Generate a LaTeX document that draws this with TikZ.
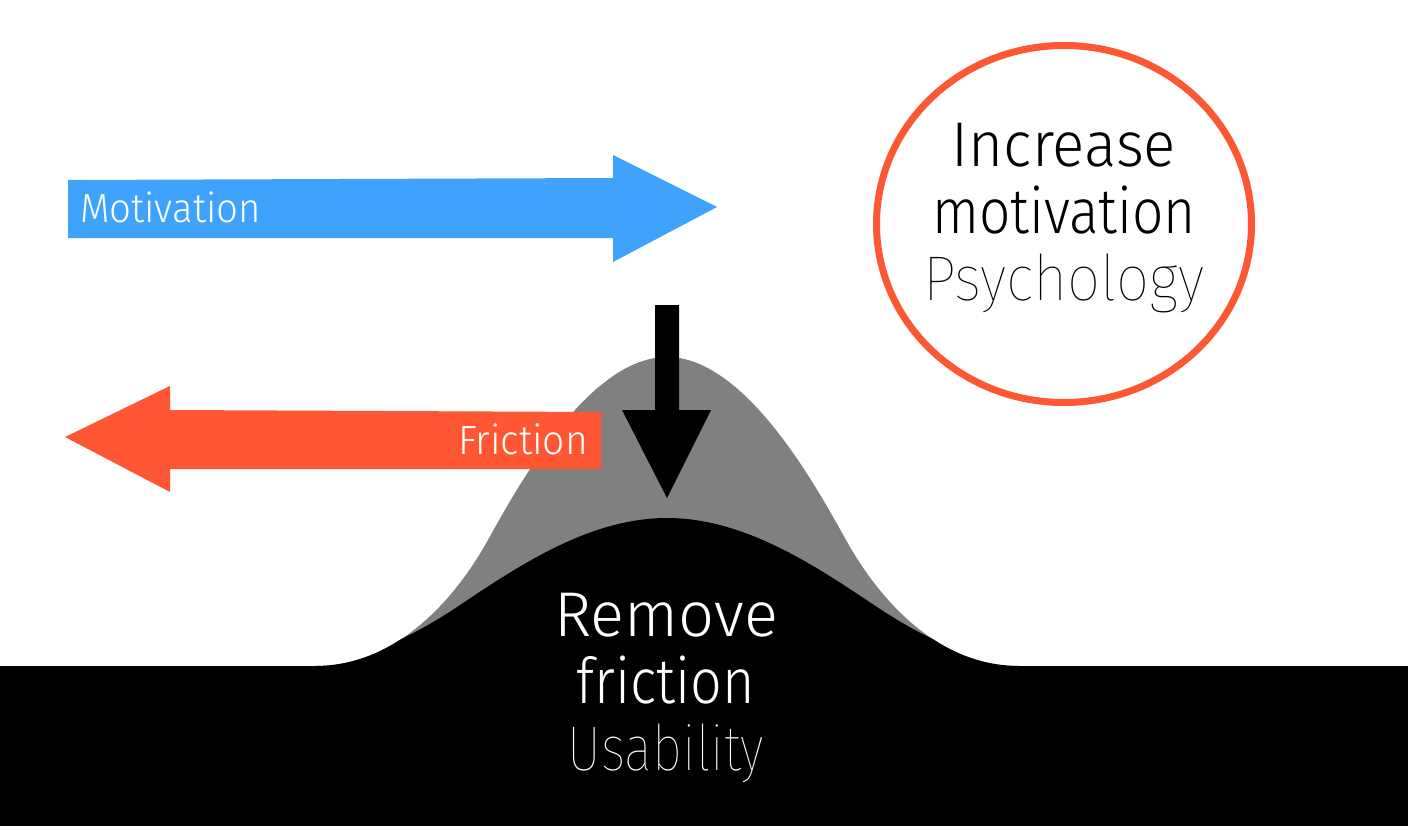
\documentclass[tikz,border=0pt]{standalone}
\usepackage{fontspec}
\setmainfont{Fira Sans Light}
\newfontfamily\thinf{Fira Sans Thin}
\usetikzlibrary{shapes.geometric}
\definecolor{blueA}{RGB}{63,162,252}
\definecolor{redA}{RGB}{255,87,51}
\definecolor{grayA}{RGB}{128,128,128}
\newcommand{\sqz}[2]{\scalebox{#1}[1]{#2}}
\tikzset{
  lbl/.style={text=white, inner sep=0pt, font=\fontsize{58}{58}\selectfont},
  big/.style={inner sep=0pt, font=\fontsize{90}{90}\selectfont},
  bigthin/.style={inner sep=0pt, font=\thinf\fontsize{90}{90}\selectfont},
}
\begin{document}
\begin{tikzpicture}[x=0.05cm, y=-0.05cm]
\path[use as bounding box, fill=white] (0,0) rectangle (1408,826);
% gray bump
\def\graypath{(315,667) -- (315,666) .. controls (400,666) and (458,594) .. (488,540) .. controls (520,482) and (590,357) .. (667,357) .. controls (744,357) and (814,482) .. (846,540) .. controls (876,594) and (934,666) .. (1019,666) -- (1019,667) -- cycle}
\fill[grayA] \graypath;
\begin{scope}
\clip \graypath;
\fill[black] (290,667) -- (290,666) .. controls (360,666) and (420,632) .. (460,605) .. controls (520,565) and (590,518) .. (667,518) .. controls (744,518) and (814,565) .. (874,605) .. controls (914,632) and (974,666) .. (1044,666) -- (1044,667) -- cycle;
\end{scope}
\fill[black] (0,666) rectangle (1408,826);
% motivation arrow
\fill[blueA] (68,180) -- (613,178) -- (613,155) -- (717,207) -- (613,262) -- (613,238) -- (68,238) -- cycle;
\node[lbl, anchor=base west] (mot) at (80,222) {\sqz{0.94}{Motivation}};
% friction arrow
\fill[redA] (601,412) -- (170,410) -- (170,386) -- (65,437) -- (170,492) -- (170,469) -- (601,469) -- cycle;
\node[lbl, anchor=base east] (fri) at (588,454) {\sqz{0.955}{Friction}};
% black down arrow
\fill[black] (655,305) -- (679,305) -- (679,410) -- (711,410) -- (667,498) -- (622,410) -- (655,410) -- cycle;
% circle
\node[ellipse, draw=redA, line width=7*0.05cm, minimum width=375*0.05cm, minimum height=357*0.05cm] (circ) at (1064,224) {};
\node[big, anchor=base] (inc) at (1064,166) {\sqz{0.95}{Increase}};
\node[big, anchor=base] (motv) at (1064,233) {\sqz{0.87}{motivation}};
\node[bigthin, anchor=base] (psy) at (1064,300) {\sqz{0.93}{Psychology}};
% bottom texts
\node[big, text=white, anchor=base] (rem) at (666,636) {Remove};
\node[big, text=white, anchor=base] (frc) at (666,703) {\sqz{0.88}{friction}};
\node[bigthin, text=white, anchor=base] (usa) at (666,770) {\sqz{0.83}{Usability}};
\end{tikzpicture}
\end{document}
